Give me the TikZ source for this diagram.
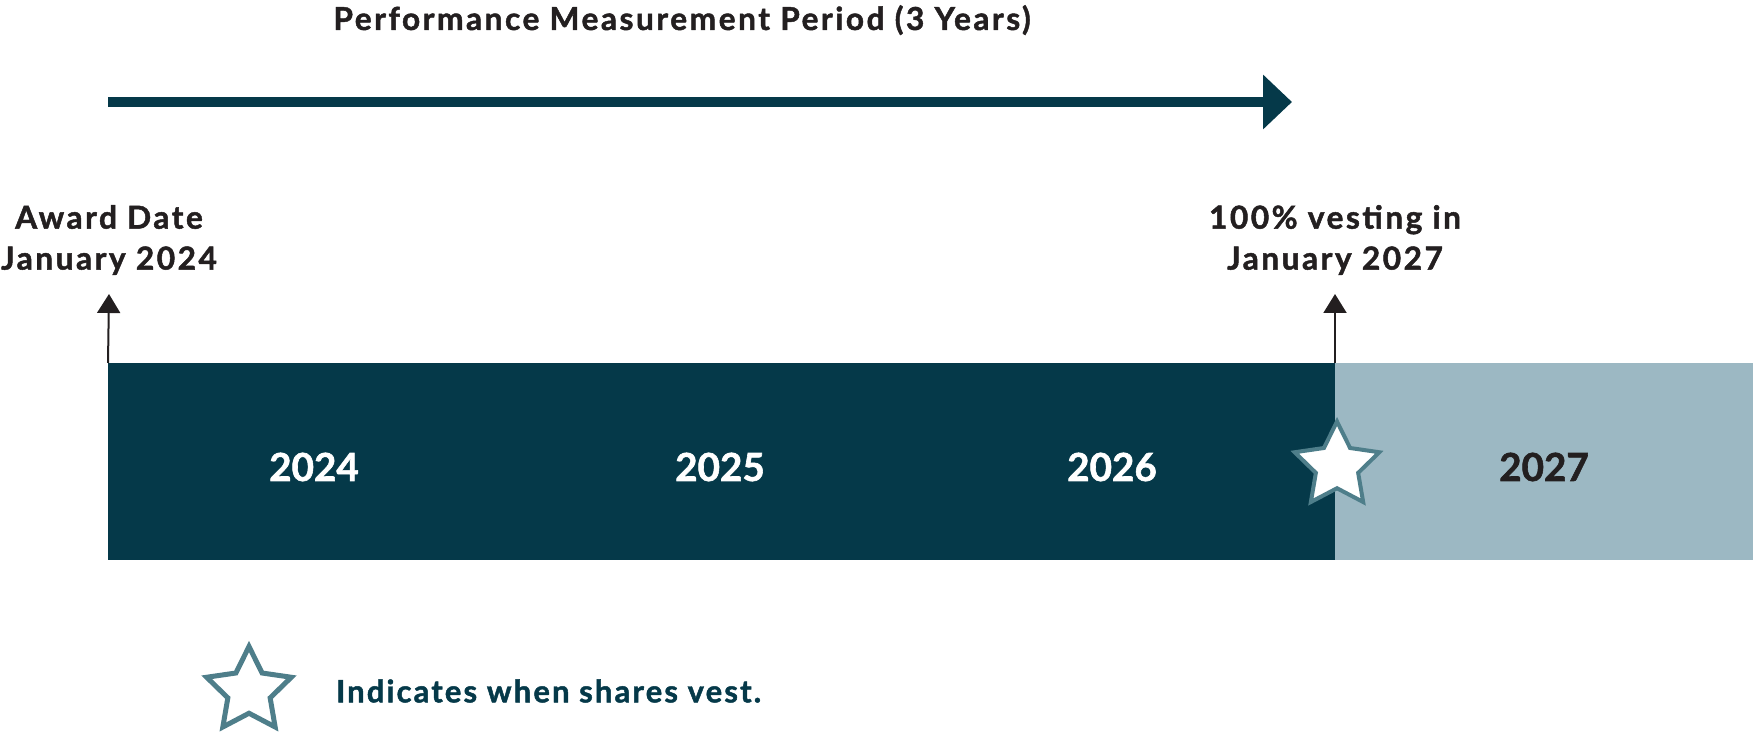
\documentclass[tikz,border=0pt]{standalone}
\usepackage{fontspec}
\setmainfont{Lato}[BoldFeatures={FakeBold=1.5}]
\newfontfamily\tracked{Lato}[LetterSpace=8, BoldFeatures={FakeBold=1.5}]
\newfontfamily\keyfont{Lato}[LetterSpace=7, BoldFeatures={FakeBold=1.5}]
\usepackage{xcolor}
\usetikzlibrary{arrows.meta, positioning, shapes.geometric}

\definecolor{deepteal}{HTML}{053949}
\definecolor{paleteal}{HTML}{9CB8C3}
\definecolor{startrim}{HTML}{4E7E8A}
\definecolor{inkdark}{HTML}{231F20}

\begin{document}
\begin{tikzpicture}[
    x=0.02cm, y=-0.02cm,
    label/.style={font=\tracked\fontsize{18}{23.3}\selectfont\bfseries, text=inkdark, align=center, inner sep=0pt},
    year/.style={font=\fontsize{22}{26}\selectfont\bfseries, inner sep=0pt},
    band/.style={rectangle, inner sep=0pt, minimum height=3.94cm, anchor=north west},
    marker/.style={star, star points=5, star point ratio=2, minimum size=1.78cm, inner sep=0pt, draw=startrim, line width=0.08cm},
    tick/.style={draw=inkdark, line width=0.04cm, -{Triangle[length=0.38cm, width=0.46cm]}}
  ]
  \useasboundingbox (0,0) rectangle (1753,732);

  % measurement period
  \node[label, anchor=base] (period) at (682,30) {Performance Measurement Period (3 Years)};
  \coordinate (pstart) at (108,102);
  \coordinate (pend) at (1292,102);
  \draw[deepteal, line width=0.19cm, -{Triangle[length=0.58cm, width=1.06cm]}] (pstart) -- (pend);

  % timeline bar
  \node[band, fill=deepteal, minimum width=24.54cm] (perf) at (108,363) {};
  \node[band, fill=paleteal, minimum width=8.36cm] (after) at (1335,363) {};
  \node[year, text=white] (y24) at (314,467) {2024};
  \node[year, text=white] (y25) at (720,467) {2025};
  \node[year, text=white] (y26) at (1112,467) {2026};
  \node[year, text=inkdark] (y27) at (1544,467) {2027};

  % award and vesting dates
  \node[label] (award) at (109,240) {Award Date\\January 2024};
  \node[label] (vesting) at (1335,240) {100\% vesting in\\January 2027};
  \coordinate (awardtip) at (109,294);
  \coordinate (vesttip) at (1335,294);
  \draw[tick] (perf.north west) -- (awardtip);
  \draw[tick] (after.north west) -- (vesttip);
  \node[marker, fill=white] (vest) at (1337,466) {};

  % legend
  \node[marker, line width=0.1cm] (key) at (249,691) {};
  \node[label, font=\keyfont\fontsize{17.6}{23.3}\selectfont\bfseries, text=deepteal, right=1.1cm of key] (keytext) {Indicates when shares vest.};
\end{tikzpicture}
\end{document}
